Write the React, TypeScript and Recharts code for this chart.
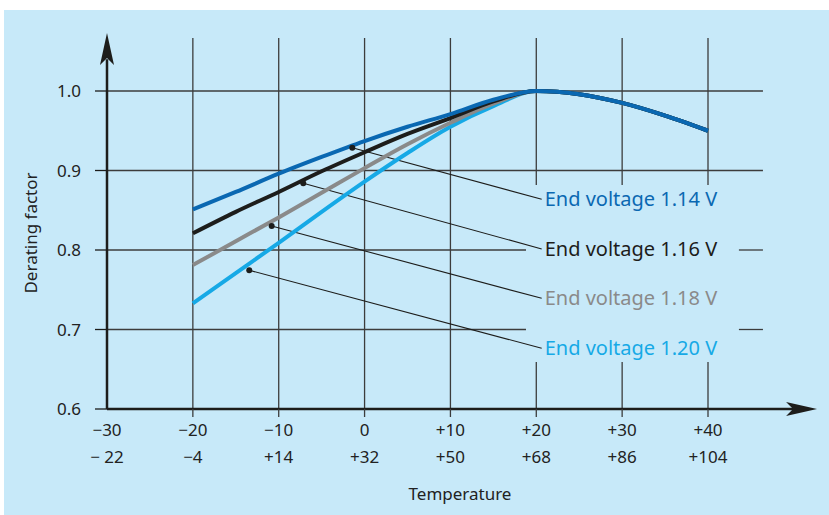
import React from 'react';
import { LineChart, Line, XAxis, YAxis, ReferenceLine, ReferenceDot } from 'recharts';

// temperature in °C
const temps = [-20, -15, -10, -5, 0, 5, 10, 15, 20, 25, 30, 35, 40];
const ev114 = [0.851, 0.873, 0.896, 0.917, 0.937, 0.955, 0.971, 0.989, 1.0, 0.996, 0.985, 0.969, 0.95];
const ev116 = [0.821, 0.848, 0.873, 0.899, 0.923, 0.946, 0.966, 0.987, 1.0, 0.996, 0.985, 0.969, 0.95];
const ev118 = [0.781, 0.811, 0.841, 0.872, 0.903, 0.933, 0.96, 0.984, 1.0, 0.996, 0.985, 0.969, 0.95];
const ev120 = [0.733, 0.771, 0.809, 0.848, 0.886, 0.922, 0.955, 0.981, 1.0, 0.996, 0.985, 0.969, 0.95];

const celsiusTicks = [-30, -20, -10, 0, 10, 20, 30, 40];
const celsiusLabels = ['−30', '−20', '−10', '0', '+10', '+20', '+30', '+40'];
const fahrenheitLabels = ['− 22', '−4', '+14', '+32', '+50', '+68', '+86', '+104'];
const yTicks = [0.6, 0.7, 0.8, 0.9, 1.0];

const series = [
  { key: 'v120', name: 'End voltage 1.20 V', color: '#16a9e6', values: ev120 },
  { key: 'v118', name: 'End voltage 1.18 V', color: '#8a8a8a', values: ev118 },
  { key: 'v116', name: 'End voltage 1.16 V', color: '#1d1d1b', values: ev116 },
  { key: 'v114', name: 'End voltage 1.14 V', color: '#0a68b2', values: ev114 },
];

// leader lines: point on curve -> label anchor
const leaders = [
  { key: 'v114', from: { x: -1.43, y: 0.9287 }, to: { x: 20.63, y: 0.8638 } },
  { key: 'v116', from: { x: -7.14, y: 0.8839 }, to: { x: 20.63, y: 0.8013 } },
  { key: 'v118', from: { x: -10.82, y: 0.8302 }, to: { x: 20.63, y: 0.7392 } },
  { key: 'v120', from: { x: -13.43, y: 0.7745 }, to: { x: 20.63, y: 0.6764 } },
];

const data = temps.map((t, i) => ({
  t,
  v114: ev114[i],
  v116: ev116[i],
  v118: ev118[i],
  v120: ev120[i],
}));

const FONT = '"Noto Sans", sans-serif';
const GRID = '#3c3c3c';
const AXIS = '#1d1d1b';

const XTick = (props: any) => {
  const { x, y, payload } = props;
  const i = celsiusTicks.indexOf(payload.value);
  return (
    <g>
      {payload.value !== -30 && <line x1={x} x2={x} y1={y - 8} y2={y} stroke={GRID} strokeWidth={1.3} />}
      <text x={x} y={y + 12} textAnchor="middle" dominantBaseline="central" fontSize={17} fill="#222" fontFamily={FONT}>
        {celsiusLabels[i]}
      </text>
      <text x={x} y={y + 39} textAnchor="middle" dominantBaseline="central" fontSize={17} fill="#222" fontFamily={FONT}>
        {fahrenheitLabels[i]}
      </text>
    </g>
  );
};

const UpArrow = (props: any) => {
  const { cx, cy } = props;
  return <polygon points={`${cx},${cy} ${cx + 7},${cy + 32} ${cx},${cy + 25} ${cx - 7},${cy + 32}`} fill={AXIS} />;
};

const RightArrow = (props: any) => {
  const { cx, cy } = props;
  return <polygon points={`${cx},${cy} ${cx - 31},${cy - 7} ${cx - 24},${cy} ${cx - 31},${cy + 7}`} fill={AXIS} />;
};

const vGrid = [-20, -10, 0, 10, 20, 30, 40];
const hGrid = [0.7, 0.8, 0.9, 1.0];

export default function App() {
  return (
    <div style={{ position: 'absolute', left: 0, top: 0, width: 829, height: 515, background: '#fff' }}>
      <div style={{ position: 'absolute', left: 4, top: 10, width: 825, height: 505, background: '#c7e9f9' }} />
      <div style={{ position: 'absolute', left: 0, top: 0 }}>
        <LineChart width={829} height={515} data={data} margin={{ top: 91, right: 121, bottom: 0, left: 0 }}>
          <XAxis
            dataKey="t"
            type="number"
            domain={[-30, 40]}
            ticks={celsiusTicks}
            axisLine={false}
            tickLine={false}
            tickSize={8}
            tickMargin={0}
            height={106}
            tick={<XTick />}
            interval={0}
            label={{
              content: ({ viewBox }: any) => (
                <text x={460} y={viewBox.y + 84} textAnchor="middle" dominantBaseline="central" fontSize={17} fill="#222" fontFamily={FONT}>
                  Temperature
                </text>
              ),
            }}
          />
          <YAxis
            type="number"
            domain={[0.6, 1.0]}
            ticks={yTicks}
            width={107}
            axisLine={false}
            tickLine={{ stroke: AXIS, strokeWidth: 1.3 }}
            tickSize={12}
            tickMargin={14}
            tickFormatter={(v: number) => v.toFixed(1)}
            tick={{ fontSize: 17, fill: '#222', fontFamily: FONT }}
            interval={0}
            label={{
              content: () => (
                <text x={30} y={233} transform="rotate(-90, 30, 233)" textAnchor="middle" dominantBaseline="central" fontSize={17} fill="#222" fontFamily={FONT}>
                  Derating factor
                </text>
              ),
            }}
          />

          {vGrid.map((x) =>
            x >= 20 ? (
              <React.Fragment key={'v' + x}>
                <ReferenceLine segment={[{ x, y: 1.0667 }, { x, y: 0.8818 }]} stroke={GRID} strokeWidth={1.3} ifOverflow="visible" />
                <ReferenceLine segment={[{ x, y: 0.659 }, { x, y: 0.6 }]} stroke={GRID} strokeWidth={1.3} ifOverflow="visible" />
              </React.Fragment>
            ) : (
              <ReferenceLine key={'v' + x} segment={[{ x, y: 1.0667 }, { x, y: 0.6 }]} stroke={GRID} strokeWidth={1.3} ifOverflow="visible" />
            )
          )}
          {hGrid.map((y) =>
            y <= 0.8 ? (
              <React.Fragment key={'h' + y}>
                <ReferenceLine segment={[{ x: -30, y }, { x: 18.8, y }]} stroke={GRID} strokeWidth={1.3} ifOverflow="visible" />
                <ReferenceLine segment={[{ x: 43.6, y }, { x: 46.4, y }]} stroke={GRID} strokeWidth={1.3} ifOverflow="visible" />
              </React.Fragment>
            ) : (
              <ReferenceLine key={'h' + y} segment={[{ x: -30, y }, { x: 46.4, y }]} stroke={GRID} strokeWidth={1.3} ifOverflow="visible" />
            )
          )}

          <ReferenceLine segment={[{ x: -30, y: 0.6 }, { x: -30, y: 1.04 }]} stroke={AXIS} strokeWidth={2.5} ifOverflow="visible" />
          <ReferenceLine segment={[{ x: -30, y: 0.6 }, { x: 50, y: 0.6 }]} stroke={AXIS} strokeWidth={2.5} ifOverflow="visible" />
          <ReferenceDot x={-30} y={1.073} r={0} shape={<UpArrow />} ifOverflow="visible" />
          <ReferenceDot x={52.7} y={0.6} r={0} shape={<RightArrow />} ifOverflow="visible" />

          {leaders.map((l) => (
            <ReferenceLine key={'l' + l.key} segment={[l.from, l.to]} stroke={AXIS} strokeWidth={1.1} ifOverflow="visible" />
          ))}

          {series.map((s) => (
            <Line
              key={s.key}
              dataKey={s.key}
              type="monotone"
              stroke={s.color}
              strokeWidth={4}
              dot={false}
              activeDot={false}
              isAnimationActive={false}
            />
          ))}

          {leaders.map((l) => {
            const s = series.find((q) => q.key === l.key)!;
            return (
              <React.Fragment key={'d' + l.key}>
                <ReferenceDot x={l.from.x} y={l.from.y} r={3} fill={AXIS} stroke="none" ifOverflow="visible" />
                <ReferenceDot
                  x={l.to.x}
                  y={l.to.y}
                  r={0}
                  stroke="none"
                  ifOverflow="visible"
                  label={{ value: s.name, position: 'right', offset: 3, fill: s.color, fontSize: 20, fontFamily: FONT }}
                />
              </React.Fragment>
            );
          })}
        </LineChart>
      </div>
    </div>
  );
}
